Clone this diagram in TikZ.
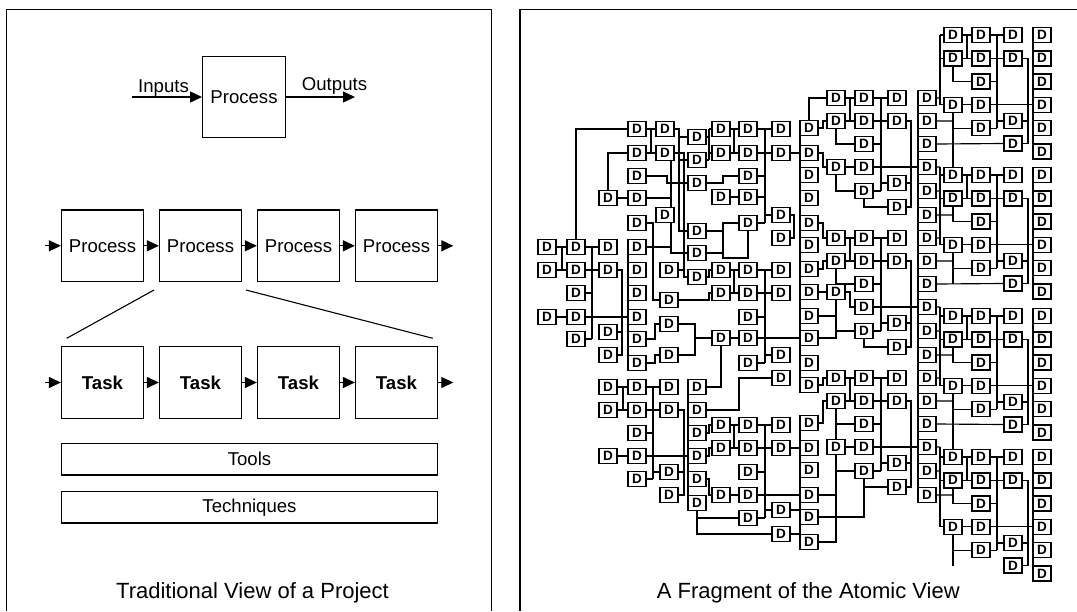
\documentclass[tikz,border=0pt]{standalone}
\usepackage{fontspec}
\setmainfont{Liberation Sans}
\usetikzlibrary{arrows.meta}
\pgfdeclarelayer{bg}
\pgfsetlayers{bg,main}
\tikzset{
  pbox/.style={draw, line width=1.3pt, minimum width=82pt, minimum height=71.7pt, inner sep=0pt, font=\fontsize{18.6}{20}\selectfont},
  tbox/.style={pbox, font=\fontsize{18.6}{20}\selectfont\bfseries},
  wide/.style={draw, line width=1.3pt, minimum width=375.6pt, minimum height=31.7pt, inner sep=0pt, font=\fontsize{18.6}{20}\selectfont},
  lbl/.style={inner sep=0pt, font=\fontsize{18.6}{20}\selectfont},
  captext/.style={inner sep=0pt, font=\fontsize{22}{24}\selectfont},
  flow/.style={line width=1.3pt, -{Triangle[length=12pt,width=11pt]}},
  dbox/.style={draw, fill=white, line width=1.5pt, minimum width=18pt, minimum height=15pt, inner sep=0pt, font=\fontsize{13.5}{13.5}\selectfont\bfseries},
  wire/.style={line width=1.15pt},
  frame/.style={line width=1.2pt},
}
% right module: #1 name, #2 y0, #3 bus top (relative)
\newcommand\rmod[3]{%
\begin{scope}[shift={(0,#2)}]
 \node[dbox] (#1p0) at (953,0) {D};
 \node[dbox] (#1p1) at (953,23.3) {D};
 \node[dbox] (#1p3) at (953,69.9) {D};
 \node[dbox] (#1q0) at (981,0) {D};
 \node[dbox] (#1q1) at (981,23.3) {D};
 \node[dbox] (#1q2) at (981,46.6) {D};
 \node[dbox] (#1q3) at (981,69.9) {D};
 \node[dbox] (#1q4) at (981,93.2) {D};
 \node[dbox] (#1s0) at (1013,0) {D};
 \node[dbox] (#1s1) at (1013,23.3) {D};
 \node[dbox] (#1s2) at (1013,86) {D};
 \node[dbox] (#1s3) at (1013,108.5) {D};
 \foreach \i in {0,...,5} \node[dbox] (#1t\i) at (1042,{23.3*\i}) {D};
 \begin{pgfonlayer}{bg}
 \draw[wire] (940,#3) -- (940,69.9) (940,0) -- (#1p0.west) (940,23.3) -- (#1p1.west) (940,69.9) -- (#1p3.west);
 \draw[wire] (#1p0.east) -- (#1q0.west) (#1p1.east) -- (#1q1.west) (967,0) -- (967,23.3);
 \draw[wire] (#1q0.east) -- (#1s0.west) (#1q1.east) -- (#1s1.west) (997,0) -- (997,93.2)
   (#1q2.east) -- (997,46.6) (#1q4.east) -- (997,93.2) (#1s2.west) -- (997,86);
 \draw[wire] (#1p1.south) |- (#1q2.west);
 \draw[wire] (#1p3.east) -- (#1q3.west) (#1q3.east) -- (1033,69.9);
 \draw[wire] (#1s1.east) -- (1028,23.3) -- (1028,108.5) -- (#1s3.east) (#1s2.east) -- (1028,86);
 \draw[wire] (#1p3.south) |- (#1q4.west) (953,93.2) -- (953,108.5);
 \draw[wire] (1033,-7.5) -- (1033,124);
 \end{pgfonlayer}
\end{scope}}
% middle module: #1 name, #2 y0, #3 offset of third box in column 836
\newcommand\mmod[3]{%
\begin{scope}[shift={(0,#2)}]
 \node[dbox] (#1a0) at (836,0) {D};
 \node[dbox] (#1a1) at (836,23) {D};
 \node[dbox] (#1a3) at (836,#3) {D};
 \foreach \i/\o in {0/0,1/23,2/46,3/69,4/93} \node[dbox] (#1b\i) at (864,\o) {D};
 \node[dbox] (#1c0) at (897,0) {D};
 \node[dbox] (#1c1) at (897,23) {D};
 \node[dbox] (#1c2) at (897,85) {D};
 \node[dbox] (#1c3) at (897,109) {D};
 \foreach \i/\o in {0/0,1/23,2/46,3/69,4/93,5/117} \node[dbox] (#1d\i) at (927,\o) {D};
 \begin{pgfonlayer}{bg}
 \draw[wire] (#1a0.east) -- (#1b0.west) (#1a1.east) -- (#1b1.west) (850,0) -- (850,23);
 \draw[wire] (#1b0.east) -- (#1c0.west) (#1b1.east) -- (#1c1.west) (881,0) -- (881,93)
   (#1b2.east) -- (881,46) (#1b4.east) -- (881,93) (881,85) -- (#1c2.west);
 \draw[wire] (#1c1.east) -- (911,23) -- (911,109) -- (#1c3.east) (#1c2.east) -- (911,85);
 \draw[wire] (#1a1.south) |- (#1b2.west);
 \draw[wire] (#1b3.east) -- (918,69);
 \draw[wire] (#1b4.south) |- (#1c3.west);
 \end{pgfonlayer}
\end{scope}}
\begin{document}
\begin{tikzpicture}[x=1pt,y=-1pt]
\useasboundingbox (0,0) rectangle (1077,611);
% frames
\draw[frame] (6.7,611) -- (6.7,9.3) -- (491.7,9.3) -- (491.7,611);
\draw[frame] (520,611) -- (520,9.3) -- (1077,9.3);

% ---------- left panel ----------
\node[pbox, minimum width=82.6pt, minimum height=80.6pt] (top) at (244,97) {Process};
\coordinate (inS) at (131.7,97);
\coordinate (outE) at (355,97);
\draw[flow] (inS) -- (top.west);
\draw[flow] (top.east) -- (outE);
\node[lbl, anchor=base] (inl) at (163.5,92.5) {Inputs};
\node[lbl, anchor=base] (outl) at (334.5,90.7) {Outputs};

\foreach \i in {1,...,4} \node[pbox] (p\i) at ({102.5+98*(\i-1)},245.8) {Process};
\foreach \i in {1,...,4} \node[tbox] (t\i) at ({102.5+98*(\i-1)},382.5) {Task};
\coordinate (pin) at (45,245.8);
\coordinate (pout) at (453.3,245.8);
\coordinate (tin) at (45,382.5);
\coordinate (tout) at (453.3,382.5);
\draw[flow] (pin) -- (p1.west);
\draw[flow] (p1.east) -- (p2.west);
\draw[flow] (p2.east) -- (p3.west);
\draw[flow] (p3.east) -- (p4.west);
\draw[flow] (p4.east) -- (pout);
\draw[flow] (tin) -- (t1.west);
\draw[flow] (t1.east) -- (t2.west);
\draw[flow] (t2.east) -- (t3.west);
\draw[flow] (t3.east) -- (t4.west);
\draw[flow] (t4.east) -- (tout);
\coordinate (zl1) at (154,290);
\coordinate (zl2) at (66.7,338.3);
\coordinate (zr1) at (246,290);
\coordinate (zr2) at (432.7,338.3);
\draw[line width=1.1pt] (zl1) -- (zl2) (zr1) -- (zr2);
\node[wide] (tools) at (249.5,459.2) {Tools};
\node[wide] (tech) at (249.5,507.2) {Techniques};
\node[captext, anchor=base] (cap1) at (252.5,598.3) {Traditional View of a Project};

% ---------- right panel ----------
\foreach \x/\y in {547/247,547/270,547/317,
  576/247,576/270,576/293,576/317,576/339,
  608/198,608/247,608/270,608/332,608/355,608/387,608/410,608/456,
  637/129,637/153,637/176,637/198,637/223,637/247,637/270,637/293,637/317,637/339,637/363,637/387,637/410,637/433,637/456,637/479,
  665/129,665/153,665/215,
  669/270,669/300,669/324,669/355,669/387,669/410,669/472,669/495,
  697/137,697/160,697/183,697/231,697/253,697/277,697/387,697/410,697/433,697/456,697/479,697/503,
  721/129,721/153,721/197,721/270,721/293,721/338,721/425,721/448,721/495,
  748/129,748/153,748/176,748/197,748/223,748/270,748/293,748/317,748/338,748/363,748/425,748/448,748/472,748/495,748/518,
  781/129,781/153,781/215,781/238,781/270,781/293,781/355,781/378,781/425,781/448,781/510,781/534,
  809/128,809/153,809/175,809/198,809/223,809/245,809/269,809/292,809/316,809/338,809/363,809/385,
  809/423,809/448,809/470,809/495,809/517,809/542}
  \node[dbox] (n\x-\y) at (\x,\y) {D};

\mmod{Ma}{98}{69}
\mmod{Mb}{238}{54}
\mmod{Mc}{378}{69}
\rmod{Ra}{35}{0}
\rmod{Rb}{175}{-8}
\rmod{Rc}{316}{-9}
\rmod{Rd}{457}{-10}

\begin{pgfonlayer}{bg}
% left area wiring
\draw[wire] (n637-129.west) -| (n576-247.north)
 (n637-153.west) -| (n608-198.north)
 (n637-129.east) -- (n665-129.west) (n637-153.east) -- (n665-153.west) (651,129) -- (651,153)
 (n665-129.east) -- (679,129) -- (679,231) -- (n697-231.west)
 (679,137) -- (n697-137.west) (679,160) -- (n697-160.west)
 (671,160.5) -- (671,253) -- (n697-253.west)
 (n637-198.east) -- (671,198)
 (n637-247.east) -- (671,247)
 (n665-153.east) -- (684,153) -- (684,277) -- (n697-277.west)
 (n669-270.east) -- (684,270)
 (n697-137.east) -- (709,137) (n697-160.east) -- (709,160) (709,129) -- (709,160)
 (709,129) -- (n721-129.west) (709,153) -- (n721-153.west)
 (n721-129.east) -- (n748-129.west) (n721-153.east) -- (n748-153.west) (734,129) -- (734,153)
 (n748-129.east) -- (n781-129.west) (n748-153.east) -- (n781-153.west) (765,129) -- (765,223)
 (n748-176.east) -- (765,176) (n748-197.east) -- (765,197) (n748-223.east) -- (765,223)
 (765,215) -- (n781-215.west)
 (n637-176.east) -- (667,176) |- (n697-183.west)
 (n697-183.east) -- (723,183) |- (n748-176.west)
 (n608-198.east) -- (n637-198.west)
 (n721-197.east) -- (n748-197.west)
 (n637-223.east) -- (653,223) -- (653,300) -- (n669-300.west)
 (n697-231.east) -- (723,231) (n697-253.east) -- (723,253)
 (n748-223.west) -- (723,223) -- (723,258) -- (748,258) -- (n748-223.south)
 (n697-277.east) -- (709,277) |- (n721-270.west)
 (n721-270.east) -- (n748-270.west) (n721-293.east) -- (n748-293.west) (734,270) -- (734,293)
 (n748-270.east) -- (n781-270.west) (n748-293.east) -- (n781-293.west) (765,270) -- (765,363)
 (n748-317.east) -- (765,317) (765,355) -- (n781-355.west) (n748-363.east) -- (765,363)
 (n669-300.east) -- (709,300) |- (n721-293.west)
 (n637-339.east) -- (655,339) |- (n669-324.west)
 (n637-363.east) -- (655,363) |- (n669-355.west)
 (n669-324.east) -- (695,324) -- (695,355) -- (n669-355.east) (695,338) -- (n721-338.west)
 (n721-338.east) -- (n748-338.west) (n748-338.east) -- (800,338)
 (n781-215.east) -- (794,215) -- (794,238) -- (n781-238.east)
 (n721-338.south) |- (n697-387.east)
 (n608-387.east) -- (n637-387.west) (n637-387.east) -- (n669-387.west)
 (n608-410.east) -- (n637-410.west) (n637-410.east) -- (n669-410.west) (623,387) -- (623,410)
 (653,387) -- (653,479) (n637-433.east) -- (653,433) (n637-479.east) -- (653,479) (653,472) -- (n669-472.west)
 (n669-410.east) -- (684,410) -- (684,495) -- (n669-495.east) (n669-472.east) -- (684,472)
 (688,380) -- (688,510)
 (n637-456.east) -- (n697-456.west)
 (n608-456.east) -- (n637-456.west)
 (n697-410.east) -- (739,410) |- (n781-378.west)
 (n697-433.east) -- (709,433) |- (n721-425.west)
 (n697-456.east) -- (709,456) |- (n721-448.west)
 (n697-479.east) -- (709,479) |- (n721-495.west)
 (n721-425.east) -- (n748-425.west) (n721-448.east) -- (n748-448.west) (734,425) -- (734,448)
 (n721-495.east) -- (n748-495.west)
 (n748-425.east) -- (n781-425.west) (n748-448.east) -- (n781-448.west) (765,425) -- (765,518)
 (n748-472.east) -- (765,472) (n748-495.east) -- (800,495) (765,510) -- (n781-510.west) (n748-518.east) -- (765,518)
 (n697-503.south) |- (n781-534.west) (697,518) -- (n748-518.west)
 (n781-448.east) -- (800,448) (n781-510.east) -- (800,510) (n781-534.east) -- (800,534) (n781-153.east) -- (800,153)
 (n547-247.east) -- (n576-247.west) (n576-247.east) -- (n608-247.west)
 (n547-270.east) -- (n576-270.west) (n576-270.east) -- (n608-270.west) (562,247) -- (562,270)
 (592,247) -- (592,339) (n576-293.east) -- (592,293) (n576-339.east) -- (592,339)
 (n576-317.east) -- (n637-317.west) (n547-317.east) -- (n576-317.west)
 (n608-270.east) -- (622,270) -- (622,355) -- (n608-355.east) (n608-332.east) -- (622,332)
 (628,240) -- (628,370);
% buses of columns 809 and 927
\draw[wire] (800,120.5) -- (800,392.5) (800,415.5) -- (800,549.5) (918,90.5) -- (918,502.5);
% column 809 to middle modules
\draw[wire] (Maa0.west) -| (n809-128.north)
 (n809-128.east) -- (823,128) |- (Maa1.west)
 (n809-153.east) -- (823,153) |- (Maa3.west)
 (n809-223.east) -- (823,223) |- (Mba0.west)
 (n809-269.east) -- (823,269) |- (Mba1.west)
 (n809-385.east) -- (823,385) |- (Mca0.west)
 (n809-423.east) -- (823,423) |- (Mca1.west);
% module specific
\draw[wire] (Maa3.east) -- (Mab3.west) (Maa3.south) |- (Mab4.west);
\draw[wire] (n809-292.east) -- (Mba3.west) (Mba3.east) -- (850,292) |- (Mbb3.west)
 (Mba3.south) -- (836,338) -- (n809-338.east) (836,331) -- (Mbb4.west) (n809-316.east) -- (836,316);
\draw[wire] (Mca3.east) -- (Mcb3.west) (Mca1.south) -- (836,542) -- (n809-542.east)
 (836,471) -- (Mcb4.west) (n809-495.east) -- (836,495) (n809-517.east) -- (864,517) -- (Mcb4.south);
% middle to right modules
\draw[wire] (Mad0.east) -- (940,98) (Mad1.east) -- (953,121) (Mad2.east) -- (Ras3.west)
 (Mad3.east) -- (940,167) (Mad4.east) -- (940,191) (Mad5.east) -- (953,215);
\draw[wire] (Mbd0.east) -- (940,238) (Mbd1.east) -- (953,261) (Mbd2.east) -- (Rbs3.west)
 (Mbd3.east) -- (940,307) (Mbd4.east) -- (940,331) (Mbd5.east) -- (953,355);
\draw[wire] (Mcd0.east) -- (940,378) (Mcd1.east) -- (953,401) (Mcd2.east) -- (Rcs3.west)
 (Mcd3.east) -- (940,447) (Mcd4.east) -- (940,471) (Mcd5.east) -- (953,495);
\draw[wire] (Rap3.south) -- (Rbp0.north) (Rcp3.south) -- (Rdp0.north);
\end{pgfonlayer}

\node[captext, anchor=base] (cap2) at (808.3,598) {A Fragment of the Atomic View};
\end{tikzpicture}
\end{document}
